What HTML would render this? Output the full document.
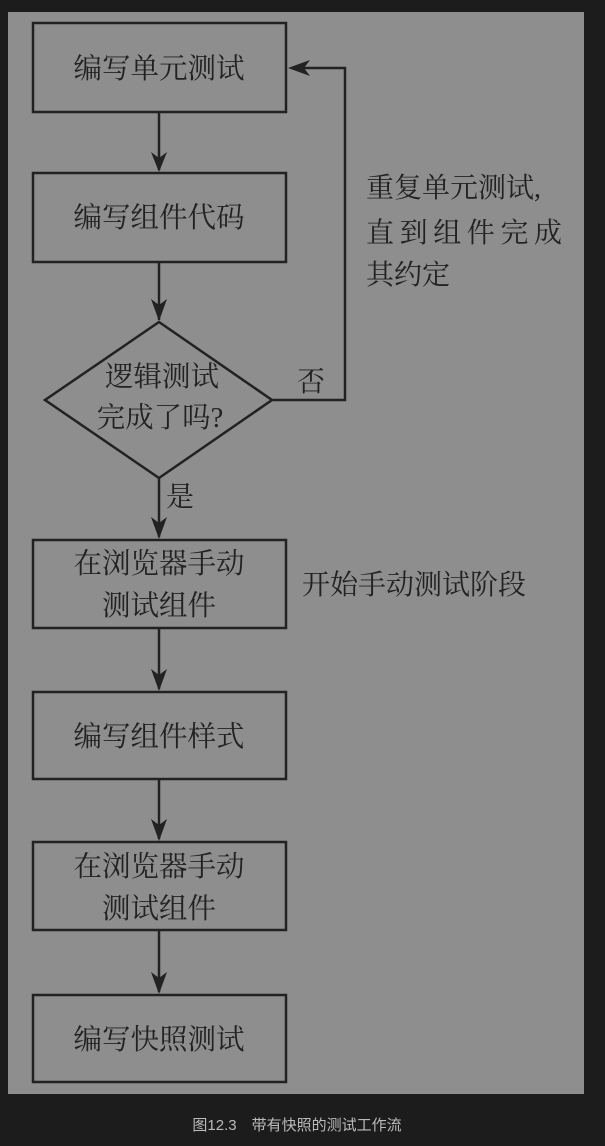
<!DOCTYPE html>
<html><head><meta charset="utf-8"><style>
body{margin:0;background:#1c1c1c;width:605px;height:1146px;overflow:hidden;font-family:"Liberation Serif","Noto Serif CJK SC",serif}
</style></head><body>
<svg width="605" height="1146" xmlns="http://www.w3.org/2000/svg" style="position:absolute;left:0;top:0">
<rect x="8" y="12" width="576" height="1082" fill="#8e8e8e"/>
<g fill="none" stroke="#222" stroke-width="2.5">
<rect x="33" y="23" width="253" height="89"/>
<rect x="33" y="173" width="253" height="89"/>
<polygon points="159,322 272,400 159,478 45,400"/>
<rect x="33" y="540" width="253" height="88"/>
<rect x="33" y="692" width="253" height="87"/>
<rect x="33" y="842" width="253" height="88"/>
<rect x="33" y="995" width="253" height="87"/>
<line x1="159" y1="112" x2="159" y2="170"/>
<line x1="159" y1="262" x2="159" y2="320"/>
<line x1="159" y1="478" x2="159" y2="537"/>
<line x1="159" y1="628" x2="159" y2="689"/>
<line x1="159" y1="779" x2="159" y2="839"/>
<line x1="159" y1="930" x2="159" y2="992"/>
<polyline points="272,400 345,400 345,68 295,68"/>
</g>
<g fill="#222">
<polygon points="151,152 159,172 167,152 159,158"/>
<polygon points="151,299 159,321 167,299 159,305"/>
<polygon points="151,517 159,539 167,517 159,523"/>
<polygon points="151,669 159,691 167,669 159,675"/>
<polygon points="151,819 159,841 167,819 159,825"/>
<polygon points="151,972 159,994 167,972 159,978"/>
<polygon points="288,68 310,60 304,68 310,76"/>
</g>
<g fill="#222" font-size="28.5" text-anchor="middle">
<text x="159" y="78">编写单元测试</text>
<text x="159" y="227">编写组件代码</text>
<text x="162" y="386">逻辑测试</text>
<text x="160" y="427">完成了吗?</text>
<text x="159" y="573">在浏览器手动</text>
<text x="159" y="615">测试组件</text>
<text x="159" y="746">编写组件样式</text>
<text x="159" y="876">在浏览器手动</text>
<text x="159" y="918">测试组件</text>
<text x="159" y="1049">编写快照测试</text>
</g>
<g fill="#222" font-size="28">
<text x="366" y="197">重复单元测试,</text>
<text x="366" y="242" textLength="196">直到组件完成</text>
<text x="366" y="284">其约定</text>
<text x="297" y="391">否</text>
<text x="166" y="506">是</text>
<text x="302" y="594">开始手动测试阶段</text>
</g>
<text x="297" y="1130" fill="#bbb" font-size="15" text-anchor="middle" font-family="Liberation Sans,Noto Sans CJK SC,sans-serif">图12.3　带有快照的测试工作流</text>
</svg>
</body></html>
